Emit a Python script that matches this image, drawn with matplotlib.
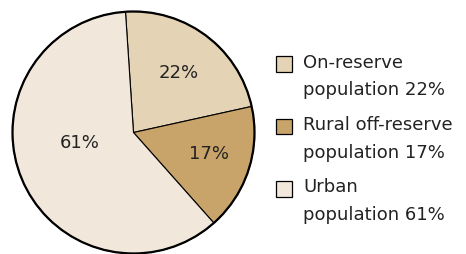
import matplotlib.pyplot as plt
from matplotlib.patches import Rectangle

plt.rcParams['font.family'] = ['DejaVu Sans']

categories = ["On-reserve\npopulation 22%", "Rural off-reserve\npopulation 17%", "Urban\npopulation 61%"]
values = [22.6, 16.9, 60.5]
colors = ["#e4d3b4", "#c9a46a", "#f1e7da"]
pct_labels = ["22%", "17%", "61%"]

W, H = 466, 255
TEXT_COLOR = "#222222"

fig = plt.figure(figsize=(W / 100, H / 100), dpi=100)
ax = fig.add_axes([0, 0, 1, 1])

cx, cy, r = 133.5, H - 133.5, 121
wedges, _ = ax.pie(values, colors=colors, startangle=93.8, counterclock=False,
                   center=(cx, cy), radius=r, frame=True,
                   wedgeprops=dict(edgecolor="black", linewidth=0.8))
ax.set_xlim(0, W)
ax.set_ylim(0, H)
ax.set_aspect('equal')
ax.axis('off')

# outer ring drawn thicker
ax.add_patch(plt.Circle((cx, cy), r, fill=False, edgecolor="black", linewidth=1.6))

# percentage labels inside the slices (pixel positions from the reference)
label_pos = [(179, 73), (209, 154), (80, 143)]
for (x, y), t in zip(label_pos, pct_labels):
    ax.text(x, H - y, t, ha='center', va='center', fontsize=13, color=TEXT_COLOR)

# legend drawn by hand so line pitch matches the reference
box_x, box_size = 276, 15.5
text_x = 303
first_line_y = 62.5
line_pitch = 27.5
entry_pitch = 62.5
for i, (lab, c) in enumerate(zip(categories, colors)):
    y0 = first_line_y + i * entry_pitch
    ax.add_patch(Rectangle((box_x, H - (y0 + 2.5) - box_size / 2), box_size, box_size,
                           facecolor=c, edgecolor="black", linewidth=0.9))
    for j, line in enumerate(lab.split("\n")):
        ax.text(text_x, H - (y0 + j * line_pitch), line, ha='left', va='center',
                fontsize=13, color=TEXT_COLOR)

fig.savefig("out.png", dpi=100)
